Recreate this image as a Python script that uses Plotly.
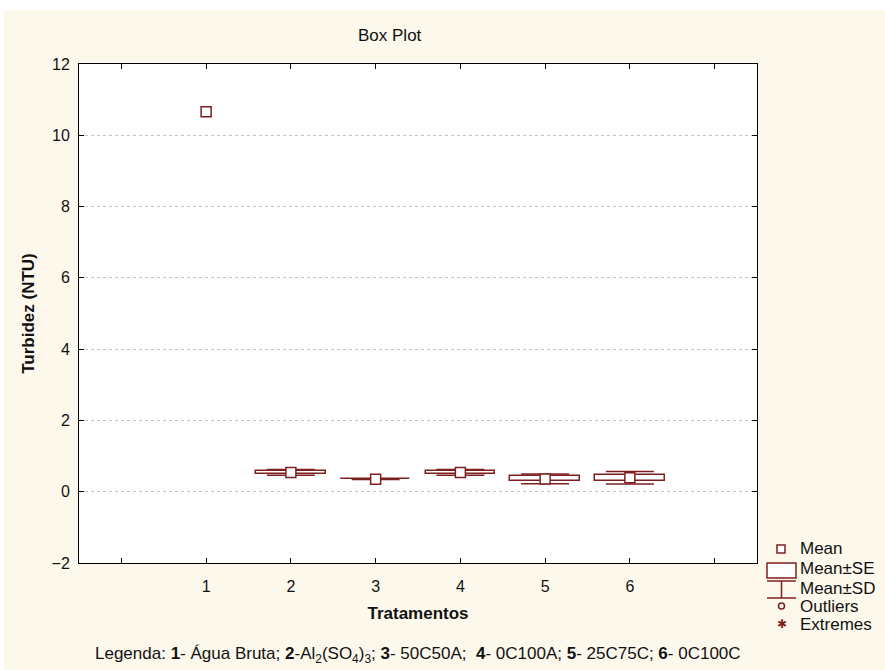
import plotly.graph_objects as go

# ---- data ----
categories = [1, 2, 3, 4, 5, 6]
means = [10.66, 0.54, 0.35, 0.54, 0.36, 0.39]
se = [None, 0.05, 0.004, 0.05, 0.07, 0.085]
sd = [None, 0.08, 0.006, 0.08, 0.14, 0.175]
tick_vals = [0, 1, 2, 3, 4, 5, 6, 7]
tick_text = ["", "1", "2", "3", "4", "5", "6", ""]

RED = "#7D1F1F"
CREAM = "#FDF8EC"
FONT = "Liberation Sans, Arial, sans-serif"

bar_base = [m - s if s is not None else None for m, s in zip(means, se)]
bar_len = [2 * s if s is not None else None for s in se]
err_plus = [(d - s) if d is not None else None for d, s in zip(sd, se)]
err_minus = [(d + s) if d is not None else None for d, s in zip(sd, se)]

fig = go.Figure()

# Mean ± SE boxes, with Mean ± SD whiskers
fig.add_trace(go.Bar(
    x=categories, y=bar_len, base=bar_base, width=0.82,
    marker=dict(color="white", line=dict(color=RED, width=1.5)),
    error_y=dict(type="data", symmetric=False, array=err_plus, arrayminus=err_minus,
                 color=RED, thickness=1.5, width=24),
    showlegend=False, hoverinfo="skip",
))

# Means
fig.add_trace(go.Scatter(
    x=categories, y=means, mode="markers",
    marker=dict(symbol="square", size=10, color="white", line=dict(color=RED, width=1.5)),
    showlegend=False,
))

PL, PR, PT, PB = 79, 757, 64, 563
PW, PH = PR - PL, PB - PT


def px_x(px):
    return (px - PL) / PW


def px_y(py):
    return (PB - py) / PH


shapes = []
# cream background with thin white border at top/left
shapes.append(dict(type="rect", xref="paper", yref="paper", layer="below",
                   x0=px_x(4), x1=px_x(885), y0=px_y(670), y1=px_y(10),
                   fillcolor=CREAM, line=dict(width=0)))
# white plot area
shapes.append(dict(type="rect", xref="paper", yref="paper", layer="below",
                   x0=0, x1=1, y0=0, y1=1, fillcolor="white", line=dict(width=0)))

# custom legend symbols
shapes.append(dict(type="rect", xref="paper", yref="paper",
                   x0=px_x(777), x1=px_x(785), y0=px_y(553), y1=px_y(545),
                   line=dict(color=RED, width=1.5), fillcolor="white"))
shapes.append(dict(type="rect", xref="paper", yref="paper",
                   x0=px_x(767), x1=px_x(796), y0=px_y(578), y1=px_y(563),
                   line=dict(color=RED, width=1.5), fillcolor="white"))
for yy in (581, 598):
    shapes.append(dict(type="line", xref="paper", yref="paper",
                       x0=px_x(767), x1=px_x(796), y0=px_y(yy), y1=px_y(yy),
                       line=dict(color=RED, width=1.5)))
shapes.append(dict(type="line", xref="paper", yref="paper",
                   x0=px_x(781.5), x1=px_x(781.5), y0=px_y(581), y1=px_y(598),
                   line=dict(color=RED, width=1.5)))
shapes.append(dict(type="circle", xref="paper", yref="paper",
                   x0=px_x(778.5), x1=px_x(784.5), y0=px_y(609), y1=px_y(603),
                   line=dict(color=RED, width=1.5)))

annotations = []
legend_items = [("Mean", 548), ("Mean±SE", 568), ("Mean±SD", 588), ("Outliers", 606), ("Extremes", 624)]
for txt, yy in legend_items:
    annotations.append(dict(text=txt, xref="paper", yref="paper", x=px_x(798), y=px_y(yy),
                            xanchor="left", yanchor="middle", showarrow=False,
                            font=dict(size=17, color="#111111", family=FONT)))
annotations.append(dict(text="✱", xref="paper", yref="paper", x=px_x(781.5), y=px_y(624),
                        xanchor="center", yanchor="middle", showarrow=False,
                        font=dict(size=12, color=RED, family="DejaVu Sans")))
annotations.append(dict(
    text="Legenda: <b>1</b>- Água Bruta; <b>2</b>-Al<sub>2</sub>(SO<sub>4</sub>)<sub>3</sub>; "
         "<b>3</b>- 50C50A;  <b>4</b>- 0C100A; <b>5</b>- 25C75C; <b>6</b>- 0C100C",
    xref="paper", yref="paper", x=px_x(418), y=px_y(655), xanchor="center", yanchor="middle",
    showarrow=False, font=dict(size=17, color="#111111", family=FONT)))
annotations.append(dict(text="Box Plot", xref="paper", yref="paper", x=px_x(390), y=px_y(35),
                        xanchor="center", yanchor="middle", showarrow=False,
                        font=dict(size=17, color="#111111", family=FONT)))

fig.update_layout(
    width=885, height=670,
    margin=dict(l=PL, r=885 - PR, t=PT, b=670 - PB),
    paper_bgcolor="white", plot_bgcolor="rgba(0,0,0,0)",
    font=dict(family=FONT, size=16, color="#111111"),
    shapes=shapes, annotations=annotations,
    showlegend=False, bargap=0,
)
fig.update_xaxes(
    range=[-0.5, 7.5], tickmode="array", tickvals=tick_vals, ticktext=tick_text,
    ticks="inside", ticklen=5, tickcolor="black", showgrid=False, zeroline=False,
    showline=True, linecolor="black", linewidth=1, mirror="ticks",
    title=dict(text="<b>Tratamentos</b>", font=dict(size=17), standoff=12),
    tickfont=dict(size=16), ticklabelstandoff=9,
)
fig.update_yaxes(
    range=[-2, 12], tickmode="linear", tick0=-2, dtick=2,
    ticks="inside", ticklen=5, tickcolor="black", showgrid=True, gridcolor="#c4c4c4",
    griddash="dot", gridwidth=1, zeroline=False,
    showline=True, linecolor="black", linewidth=1, mirror="ticks",
    title=dict(text="<b>Turbidez (NTU)</b>", font=dict(size=17), standoff=12),
    tickfont=dict(size=16), ticklabelstandoff=5,
)

fig.write_html("out.html")
